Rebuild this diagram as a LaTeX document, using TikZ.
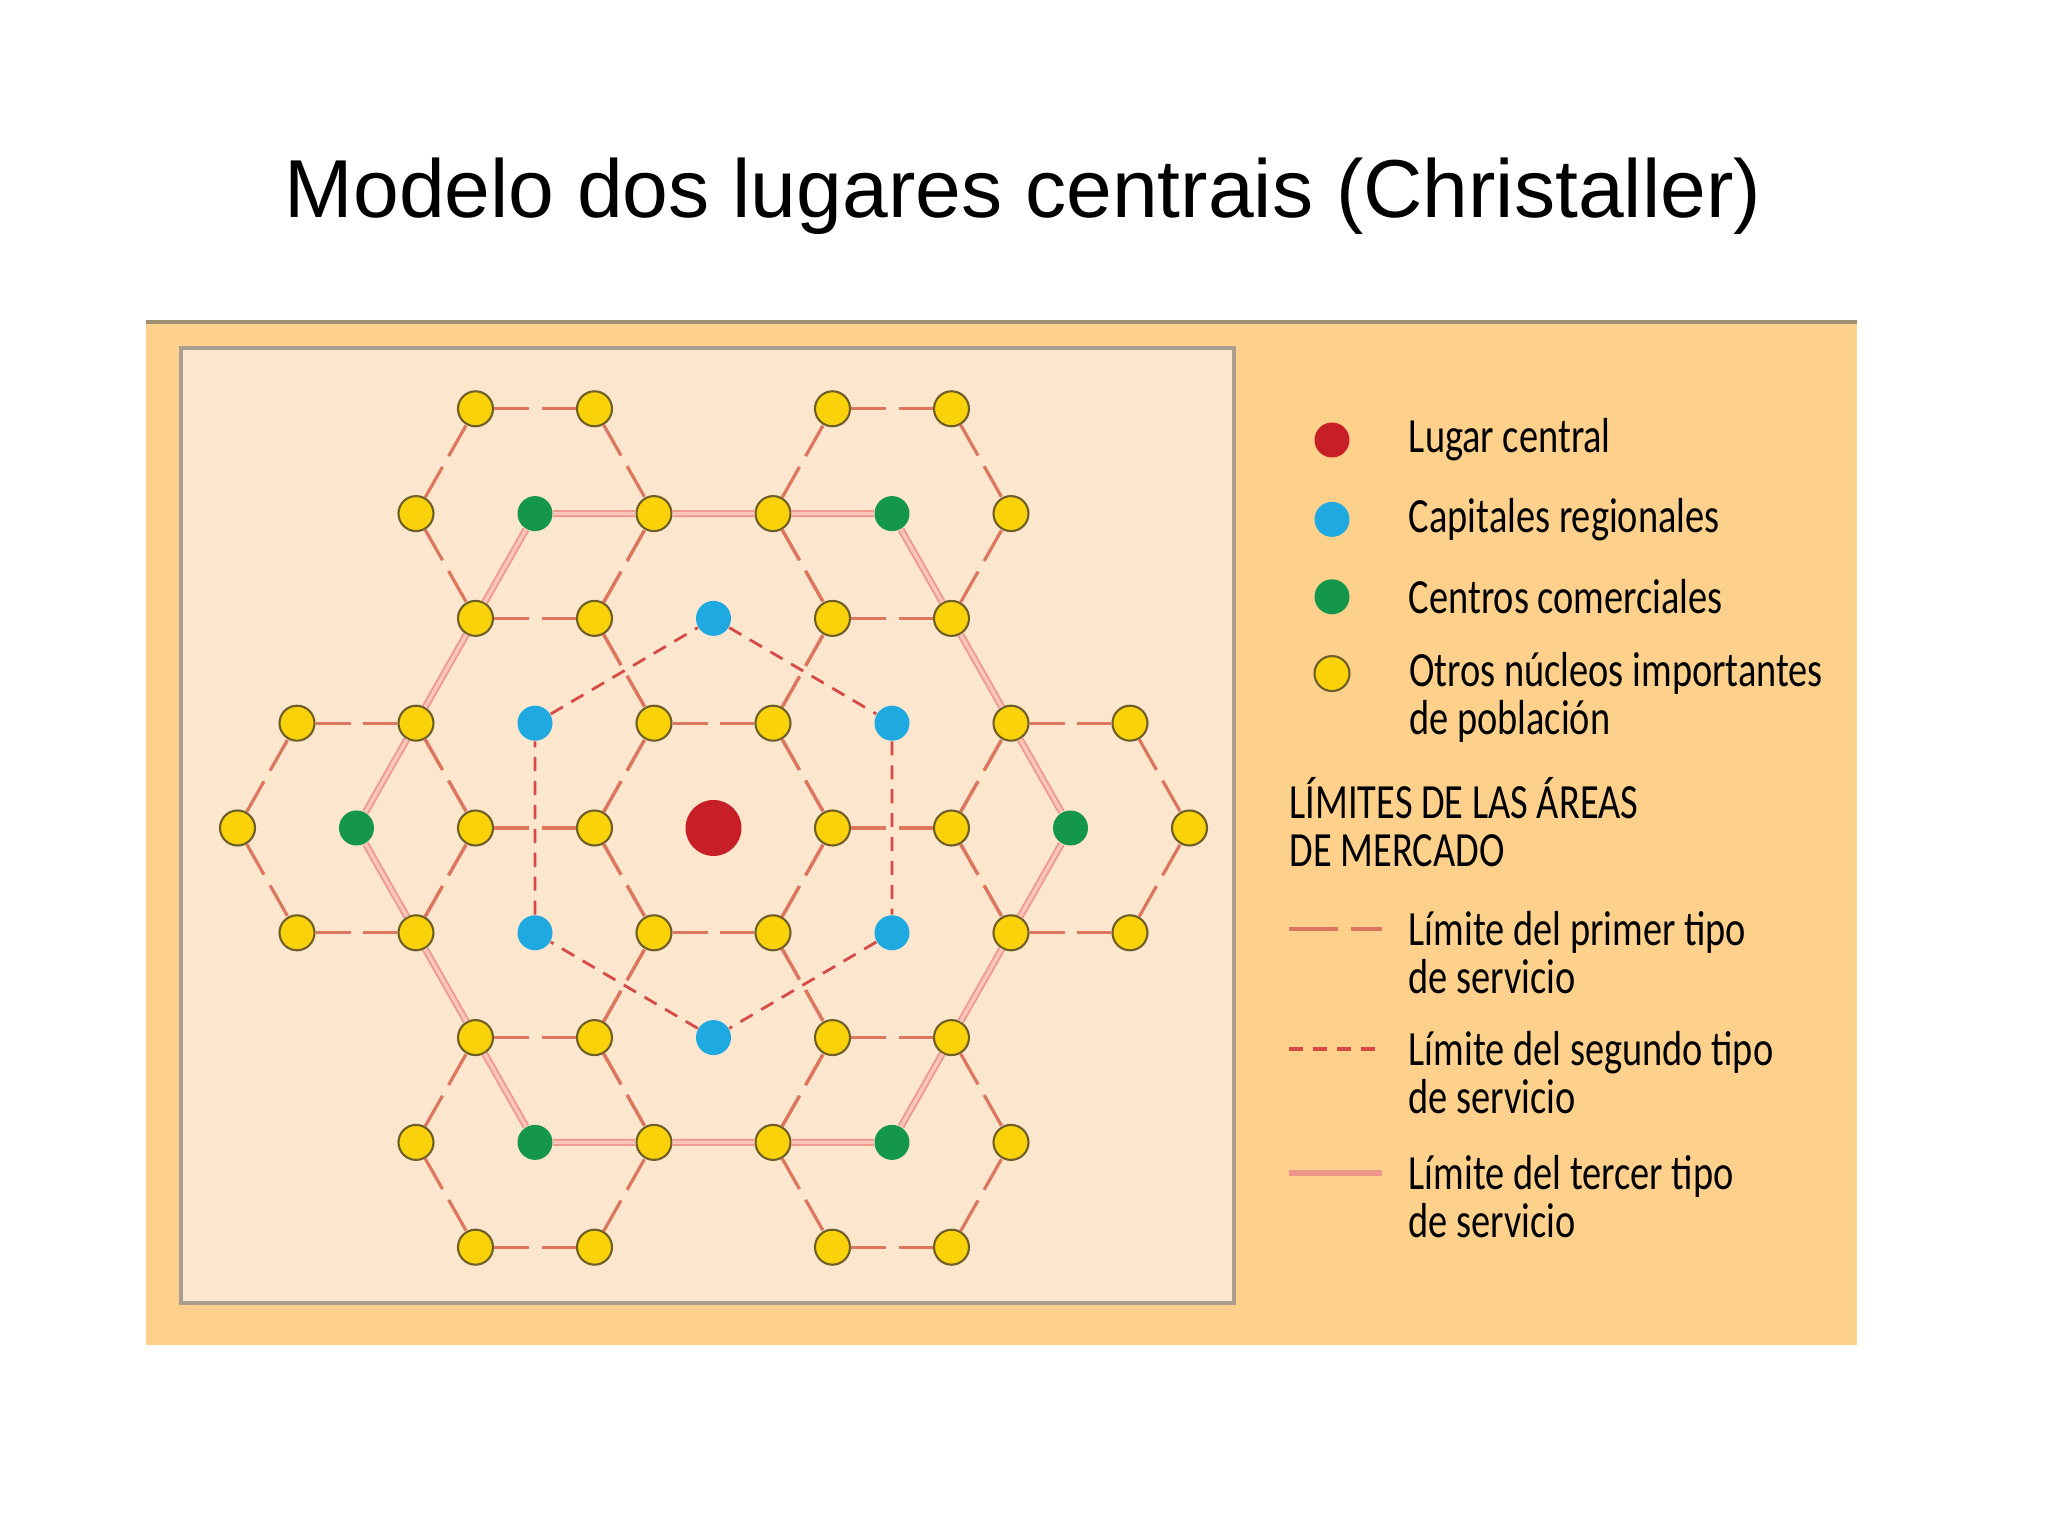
\documentclass[tikz,border=0pt]{standalone}
\usepackage{fontspec}
\setmainfont{Liberation Sans}
\newfontfamily\leyenda[FakeStretch=0.78]{Carlito}
\usetikzlibrary{positioning}

\definecolor{marco}{RGB}{253,208,140}
\definecolor{papel}{RGB}{253,230,206}
\definecolor{borde}{RGB}{172,158,142}
\definecolor{filete}{RGB}{160,142,112}
\definecolor{rojo}{RGB}{200,30,40}
\definecolor{azul}{RGB}{30,170,225}
\definecolor{verde}{RGB}{20,150,75}
\definecolor{amarillo}{RGB}{250,210,10}
\definecolor{oliva}{RGB}{110,95,40}
\definecolor{salmon}{RGB}{220,118,92}
\definecolor{rojizo}{RGB}{215,75,70}
\definecolor{rosa}{RGB}{238,150,140}
\definecolor{rosaclaro}{RGB}{250,198,188}

\begin{document}
\begin{tikzpicture}[
    punto/.style   = {circle, inner sep=0pt, minimum size=0.35cm},
    central/.style = {punto, fill=rojo, minimum size=0.56cm},
    capital/.style = {punto, fill=azul},
    centro/.style  = {punto, fill=verde},
    nucleo/.style  = {punto, fill=amarillo, draw=oliva, line width=0.6pt},
    limA/.style    = {salmon, line width=0.9pt, dash pattern=on 10pt off 3.5pt},
    limB/.style    = {rojizo, line width=0.8pt, dash pattern=on 4pt off 2.8pt},
    limC/.style    = {rosa, line width=0.5pt, double=rosaclaro, double distance=1pt},
    txt/.style     = {font=\leyenda\fontsize{14pt}{13.6pt}\selectfont,
                      anchor=west, align=left, inner sep=0pt}
]

%% ── Lienzo ─────────────────────────────────────────────────────────────────
\fill[white] (0,0) rectangle (20.48,15.35);
\fill[marco] (1.46,1.90) rectangle (18.57,12.13);
\draw[filete, line width=1pt] (1.46,12.13) -- (18.57,12.13);
\filldraw[fill=papel, draw=borde, line width=0.9pt] (1.81,2.32) rectangle (12.34,11.87);

%% ── Título ─────────────────────────────────────────────────────────────────
\node[font=\fontsize{23.4pt}{28pt}\selectfont, anchor=base] (titulo) at (10.23,13.17)
    {Modelo dos lugares centrais (Christaller)};

%% ── Lugares de la red ──────────────────────────────────────────────────────
\begin{scope}[shift={(7.135,7.07)}, x=0.595cm, y=1.048cm]
\node[central] (n0_0) at (0,0) {};
\foreach \i/\j in {0/2, 3/1, 3/-1, 0/-2, -3/-1, -3/1}
    \node[capital] (n\i_\j) at (\i,\j) {};
\foreach \i/\j in {-3/3, 3/3, 6/0, 3/-3, -3/-3, -6/0}
    \node[centro] (n\i_\j) at (\i,\j) {};
\foreach \j/\fila in {4/{-4,-2,2,4}, 3/{-5,-1,1,5}, 2/{-4,-2,2,4},
                      1/{-7,-5,-1,1,5,7}, 0/{-8,-4,-2,2,4,8}, -1/{-7,-5,-1,1,5,7},
                      -2/{-4,-2,2,4}, -3/{-5,-1,1,5}, -4/{-4,-2,2,4}}
    \foreach \i in \fila
        \node[nucleo] (n\i_\j) at (\i,\j) {};
\end{scope}

%% ── Primer tipo de servicio: hexágonos pequeños ────────────────────────────
\foreach \cx/\cy in {0/0, 0/2, 3/1, 3/-1, 0/-2, -3/-1, -3/1,
                     -3/3, 3/3, 6/0, 3/-3, -3/-3, -6/0} {
    \pgfmathtruncatemacro\xa{\cx-2}
    \pgfmathtruncatemacro\xb{\cx-1}
    \pgfmathtruncatemacro\xc{\cx+1}
    \pgfmathtruncatemacro\xd{\cx+2}
    \pgfmathtruncatemacro\ya{\cy+1}
    \pgfmathtruncatemacro\yb{\cy-1}
    \draw[limA] (n\xb_\ya) -- (n\xc_\ya);
    \draw[limA] (n\xb_\yb) -- (n\xc_\yb);
    \draw[limA] (n\xa_\cy) -- (n\xb_\ya);
    \draw[limA] (n\xa_\cy) -- (n\xb_\yb);
    \draw[limA] (n\xc_\ya) -- (n\xd_\cy);
    \draw[limA] (n\xc_\yb) -- (n\xd_\cy);
}

%% ── Segundo tipo: hexágono de las capitales ────────────────────────────────
\draw[limB] (n0_2) -- (n3_1) -- (n3_-1) -- (n0_-2) -- (n-3_-1) -- (n-3_1) -- (n0_2);

%% ── Tercer tipo: hexágono de los centros comerciales ───────────────────────
\draw[limC] (n-3_3) -- (n-1_3) -- (n1_3) -- (n3_3) -- (n4_2) -- (n5_1) -- (n6_0)
    -- (n5_-1) -- (n4_-2) -- (n3_-3) -- (n1_-3) -- (n-1_-3) -- (n-3_-3)
    -- (n-4_-2) -- (n-5_-1) -- (n-6_0) -- (n-5_1) -- (n-4_2) -- (n-3_3);

%% ── Leyenda ────────────────────────────────────────────────────────────────
\node[central, minimum size=0.35cm] (lrojo) at (13.32,10.95) {};
\node[capital, below=0.43cm of lrojo] (lazul) {};
\node[centro, below=0.41cm of lazul] (lverde) {};
\node[nucleo, below=0.40cm of lverde] (lamarillo) {};
\node[txt, right=0.58cm of lrojo] (tlugar) {Lugar central};
\node[txt, right=0.58cm of lazul] (tcapital) {Capitales regionales};
\node[txt, right=0.58cm of lverde] (tcentro) {Centros comerciales};
\node[txt, right=0.58cm of lamarillo, yshift=-0.235cm] (tnucleo)
    {Otros núcleos importantes\\de población};

\node[txt] (tlimites) at (12.89,7.125) {LÍMITES DE LAS ÁREAS\\DE MERCADO};

\coordinate (a0) at (12.89,6.06);
\coordinate[right=0.93cm of a0] (a1);
\coordinate (b0) at (12.89,4.86);
\coordinate[right=0.93cm of b0] (b1);
\coordinate (c0) at (12.89,3.62);
\coordinate[right=0.93cm of c0] (c1);
\draw[limA, line width=1.4pt, dash pattern=on 14pt off 3.5pt] (a0) -- (a1);
\draw[limB, line width=1pt] (b0) -- (b1);
\draw[rosa, line width=1.5pt] (c0) -- (c1);
\node[txt, right=0.26cm of a1, yshift=-0.235cm] (tprimer) {Límite del primer tipo\\de servicio};
\node[txt, right=0.26cm of b1, yshift=-0.235cm] (tsegundo) {Límite del segundo tipo\\de servicio};
\node[txt, right=0.26cm of c1, yshift=-0.235cm] (ttercer) {Límite del tercer tipo\\de servicio};

\end{tikzpicture}
\end{document}
